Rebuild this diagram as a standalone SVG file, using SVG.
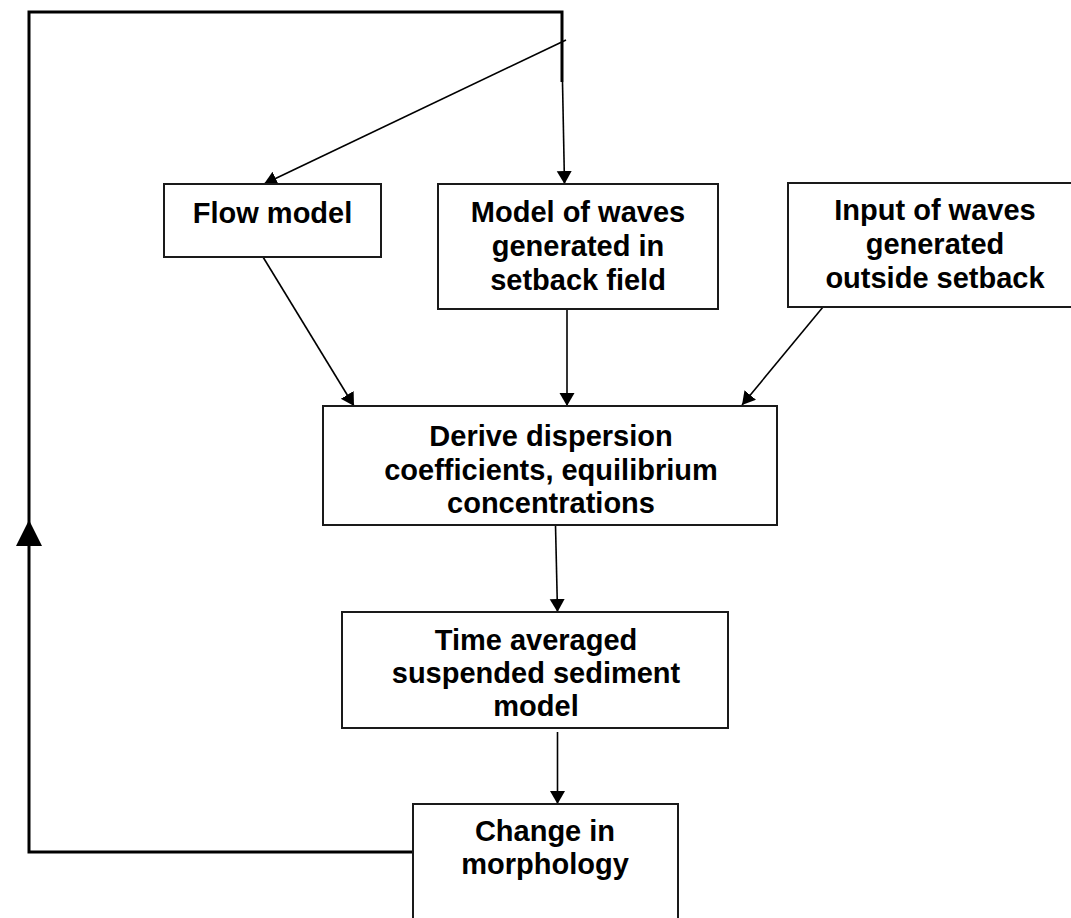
<svg xmlns="http://www.w3.org/2000/svg" width="1071" height="918" viewBox="0 0 1071 918">
<defs>
<marker id="ah" markerUnits="userSpaceOnUse" markerWidth="14" markerHeight="16" refX="13" refY="7.5" orient="auto">
<path d="M0,0 L13,7.5 L0,15 z" fill="#000"/>
</marker>
</defs>
<style>
.box{fill:#fff;stroke:#1a1a1a;stroke-width:2}
.t{font-family:"Liberation Sans",Arial,sans-serif;font-weight:bold;font-size:29px;fill:#000;text-anchor:middle}
.c{fill:none;stroke:#000;stroke-width:1.6}
.loop{fill:none;stroke:#000;stroke-width:3}
</style>
<rect width="1071" height="918" fill="#fff"/>
<g id="connectors">
<polyline class="loop" points="422,852 29,852 29,12 562,12 562,82"/>
<polygon points="29,520 42,546 16,546" fill="#000"/>
<line class="c" x1="562.5" y1="82" x2="564.5" y2="184" marker-end="url(#ah)"/>
<line class="c" x1="566" y1="40" x2="264" y2="184" marker-end="url(#ah)"/>
<line class="c" x1="263" y1="257" x2="354" y2="406" marker-end="url(#ah)"/>
<line class="c" x1="567" y1="309" x2="567" y2="406" marker-end="url(#ah)"/>
<line class="c" x1="823" y1="307" x2="742" y2="405" marker-end="url(#ah)"/>
<line class="c" x1="555.5" y1="525" x2="557.5" y2="612" marker-end="url(#ah)"/>
<line class="c" x1="557.5" y1="732" x2="557.5" y2="804" marker-end="url(#ah)"/>
</g>
<g id="flow-model">
<rect class="box" x="164" y="184" width="217" height="73"/>
<text class="t" x="272.5" y="223">Flow model</text>
</g>
<g id="waves-setback">
<rect class="box" x="438" y="184" width="280" height="125"/>
<text class="t" x="578" y="222">Model of waves</text>
<text class="t" x="578" y="256">generated in</text>
<text class="t" x="578" y="290">setback field</text>
</g>
<g id="waves-outside">
<rect class="box" x="788" y="183" width="294" height="124"/>
<text class="t" x="935" y="220">Input of waves</text>
<text class="t" x="935" y="254">generated</text>
<text class="t" x="935" y="288">outside setback</text>
</g>
<g id="derive">
<rect class="box" x="323" y="406" width="454" height="119"/>
<text class="t" x="551" y="446">Derive dispersion</text>
<text class="t" x="551" y="480">coefficients, equilibrium</text>
<text class="t" x="551" y="513">concentrations</text>
</g>
<g id="sediment-model">
<rect class="box" x="342" y="612" width="386" height="116"/>
<text class="t" x="536" y="650">Time averaged</text>
<text class="t" x="536" y="683">suspended sediment</text>
<text class="t" x="536" y="716">model</text>
</g>
<g id="morphology">
<rect class="box" x="413" y="804" width="265" height="140"/>
<text class="t" x="545" y="841">Change in</text>
<text class="t" x="545" y="874">morphology</text>
</g>
</svg>
